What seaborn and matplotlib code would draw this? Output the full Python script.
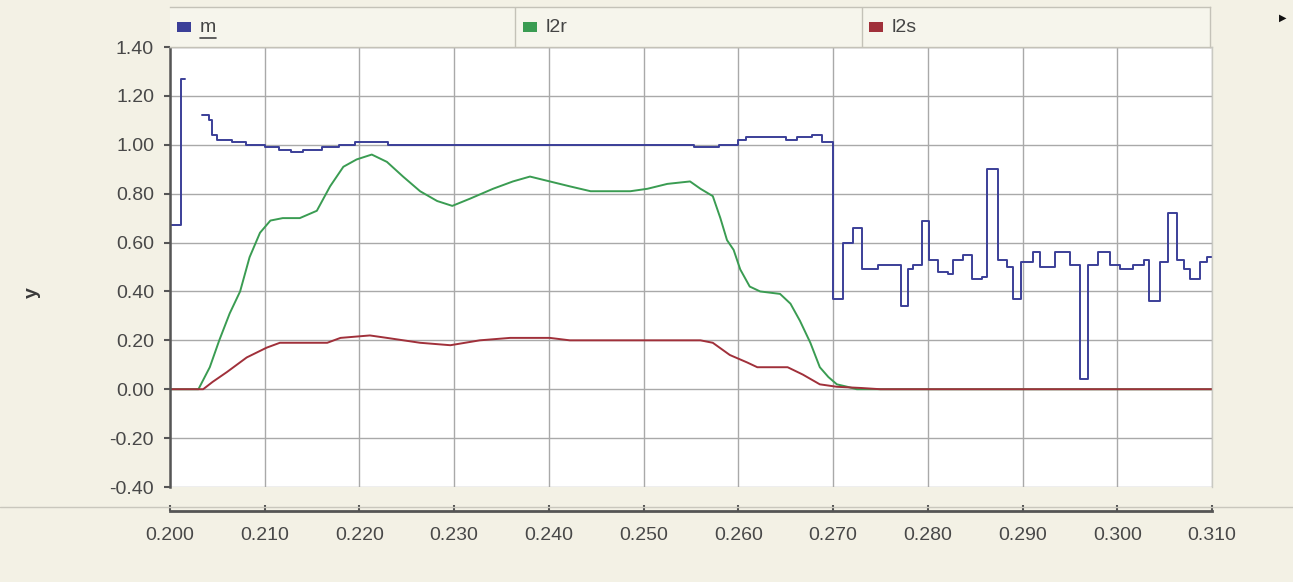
import numpy as np
import pandas as pd
import matplotlib
matplotlib.use("Agg")
import matplotlib.pyplot as plt
from matplotlib.lines import Line2D
from matplotlib.patches import Rectangle
import seaborn as sns

# ---- data -------------------------------------------------------------
# m: short start-up burst, then the main trace (held values, step style)
m_start_x = [0.2000, 0.2012, 0.2016]
m_start_y = [0.67, 1.27, 1.27]

m_x = [0.2034, 0.2041, 0.2044, 0.2050, 0.2065, 0.2080, 0.2100, 0.2115, 0.2128,
       0.2140, 0.2160, 0.2178, 0.2195, 0.2230, 0.2553, 0.2580, 0.2600, 0.2608,
       0.2650, 0.2662, 0.2678, 0.2688, 0.2700, 0.2710, 0.2721, 0.2730, 0.2747,
       0.2772, 0.2779, 0.2784, 0.2794, 0.2801, 0.2811, 0.2821, 0.2827, 0.2837,
       0.2847, 0.2857, 0.2862, 0.2874, 0.2884, 0.2890, 0.2898, 0.2911, 0.2918,
       0.2934, 0.2950, 0.2961, 0.2969, 0.2980, 0.2992, 0.3003, 0.3017, 0.3028,
       0.3034, 0.3045, 0.3054, 0.3063, 0.3070, 0.3077, 0.3087, 0.3095, 0.3100]
m_y = [1.12, 1.10, 1.04, 1.02, 1.01, 1.00, 0.99, 0.98, 0.97,
       0.98, 0.99, 1.00, 1.01, 1.00, 0.99, 1.00, 1.02, 1.03,
       1.02, 1.03, 1.04, 1.01, 0.37, 0.60, 0.66, 0.49, 0.51,
       0.34, 0.49, 0.51, 0.69, 0.53, 0.48, 0.47, 0.53, 0.55,
       0.45, 0.46, 0.90, 0.53, 0.50, 0.37, 0.52, 0.56, 0.50,
       0.56, 0.51, 0.04, 0.51, 0.56, 0.51, 0.49, 0.51, 0.53,
       0.36, 0.52, 0.72, 0.53, 0.49, 0.45, 0.52, 0.54, 0.54]

l2r_x = [0.2000, 0.2030, 0.2042, 0.2052, 0.2063, 0.2074, 0.2084, 0.2095, 0.2106,
         0.2119, 0.2137, 0.2155, 0.2169, 0.2183, 0.2197, 0.2213, 0.2229, 0.2246,
         0.2264, 0.2282, 0.2298, 0.2317, 0.2341, 0.2362, 0.2380, 0.2401, 0.2422,
         0.2444, 0.2486, 0.2504, 0.2525, 0.2549, 0.2560, 0.2573, 0.2581, 0.2588,
         0.2595, 0.2602, 0.2612, 0.2623, 0.2644, 0.2655, 0.2665, 0.2676, 0.2686,
         0.2695, 0.2704, 0.2715, 0.2725, 0.3100]
l2r_y = [0.00, 0.00, 0.09, 0.20, 0.31, 0.40, 0.54, 0.64, 0.69,
         0.70, 0.70, 0.73, 0.83, 0.91, 0.94, 0.96, 0.93, 0.87,
         0.81, 0.77, 0.75, 0.78, 0.82, 0.85, 0.87, 0.85, 0.83,
         0.81, 0.81, 0.82, 0.84, 0.85, 0.82, 0.79, 0.70, 0.61,
         0.57, 0.49, 0.42, 0.40, 0.39, 0.35, 0.28, 0.19, 0.09,
         0.05, 0.02, 0.01, 0.00, 0.00]

l2s_x = [0.2000, 0.2035, 0.2045, 0.2060, 0.2081, 0.2102, 0.2116, 0.2166, 0.2180,
         0.2211, 0.2229, 0.2264, 0.2296, 0.2327, 0.2359, 0.2401, 0.2422, 0.2560,
         0.2573, 0.2591, 0.2609, 0.2620, 0.2652, 0.2668, 0.2686, 0.2704, 0.2730,
         0.2750, 0.3100]
l2s_y = [0.00, 0.00, 0.03, 0.07, 0.13, 0.17, 0.19, 0.19, 0.21,
         0.22, 0.21, 0.19, 0.18, 0.20, 0.21, 0.21, 0.20, 0.20,
         0.19, 0.14, 0.11, 0.09, 0.09, 0.06, 0.02, 0.01, 0.005,
         0.00, 0.00]

series_names = ["m", "l2r", "l2s"]
series_colors = ["#3b3f98", "#3a9c52", "#a0303a"]

y_ticks = [-0.40, -0.20, 0.00, 0.20, 0.40, 0.60, 0.80, 1.00, 1.20, 1.40]
x_ticks = [0.200, 0.210, 0.220, 0.230, 0.240, 0.250, 0.260, 0.270, 0.280,
           0.290, 0.300, 0.310]

# ---- style ------------------------------------------------------------
sns.set_theme(style="white")
plt.rcParams["font.family"] = ["Liberation Sans", "DejaVu Sans"]

BG = "#f3f1e5"
W, H = 1293, 582
fig = plt.figure(figsize=(W / 100, H / 100), dpi=100, facecolor=BG)

def fx(px):
    return px / W

def fy(py):
    return 1 - py / H

ax = fig.add_axes([fx(170), fy(487), fx(1212) - fx(170), fy(47) - fy(487)])
ax.set_facecolor("white")

# ---- lines ------------------------------------------------------------
df_m0 = pd.DataFrame({"x": m_start_x, "y": m_start_y})
df_m = pd.DataFrame({"x": m_x, "y": m_y})
df_r = pd.DataFrame({"x": l2r_x, "y": l2r_y})
df_s = pd.DataFrame({"x": l2s_x, "y": l2s_y})

lw = 1.4
sns.lineplot(data=df_m0, x="x", y="y", ax=ax, color=series_colors[0], lw=lw,
             drawstyle="steps-post", estimator=None, sort=False)
sns.lineplot(data=df_m, x="x", y="y", ax=ax, color=series_colors[0], lw=lw,
             drawstyle="steps-post", estimator=None, sort=False)
sns.lineplot(data=df_r, x="x", y="y", ax=ax, color=series_colors[1], lw=lw,
             estimator=None, sort=False)
sns.lineplot(data=df_s, x="x", y="y", ax=ax, color=series_colors[2], lw=lw,
             estimator=None, sort=False)

# ---- axes -------------------------------------------------------------
ax.set_xlim(0.200, 0.310)
ax.set_ylim(-0.40, 1.40)
ax.set_xticks(x_ticks)
ax.set_yticks(y_ticks)
ax.set_xticklabels([f"{v:.3f}" for v in x_ticks])
ax.set_yticklabels([f"{v:.2f}" for v in y_ticks])
ax.grid(True, color="#a9a9a9", lw=1.0)
ax.set_axisbelow(True)

ax.set_xlabel("")
ax.set_ylabel("y", fontsize=14, fontweight="bold", color="#3a3a3a", rotation=90)
ax.yaxis.set_label_coords(-0.124, 0.443)

spine_c = "#555555"
ax.spines["left"].set_color(spine_c)
ax.spines["left"].set_linewidth(1.8)
ax.spines["bottom"].set_color(spine_c)
ax.spines["bottom"].set_linewidth(2.0)
ax.spines["bottom"].set_position(("outward", 17.5))
for s in ("top", "right"):
    ax.spines[s].set_color("#c9c9c2")
    ax.spines[s].set_linewidth(1.0)

ax.tick_params(axis="y", direction="out", length=4.5, width=1.5, color=spine_c,
               labelsize=14, labelcolor="#484848", pad=7, left=True)
ax.tick_params(axis="x", direction="in", length=4.5, width=1.5, color=spine_c,
               labelsize=14, labelcolor="#484848", pad=11, bottom=True)

# faint separator across the figure above the x axis
fig.add_artist(Line2D([0, 1], [fy(507), fy(507)], color="#c9c7bd", lw=1.0))

# ---- legend strip -----------------------------------------------------
lax = fig.add_axes([fx(170), fy(47), fx(1210) - fx(170), fy(7) - fy(47)])
lax.set_xlim(0, 1)
lax.set_ylim(0, 1)
lax.set_facecolor("#f6f5ec")
lax.set_xticks([])
lax.set_yticks([])
for s in lax.spines.values():
    s.set_color("#c4c2b8")
    s.set_linewidth(1.0)
lax.spines["left"].set_visible(False)

item_x = [0.0, 0.332, 0.665]
for i, (name, col, x0) in enumerate(zip(series_names, series_colors, item_x)):
    if i > 0:
        lax.axvline(x0, color="#c4c2b8", lw=1.0)
    lax.add_patch(Rectangle((x0 + 0.007, 0.38), 0.0135, 0.25, color=col,
                            transform=lax.transAxes, lw=0))
    lax.text(x0 + 0.029, 0.50, name, fontsize=14, color="#444444",
             va="center", ha="left", transform=lax.transAxes)
    if name == "m":
        lax.add_line(Line2D([x0 + 0.029, x0 + 0.044], [0.22, 0.22],
                            color="#444444", lw=1.2, transform=lax.transAxes))

fig.text(fx(1283), fy(18), "\u25b6", fontsize=7, color="#111111",
         ha="center", va="center", family=["DejaVu Sans"])

fig.savefig("out.png", dpi=100, facecolor=BG)
